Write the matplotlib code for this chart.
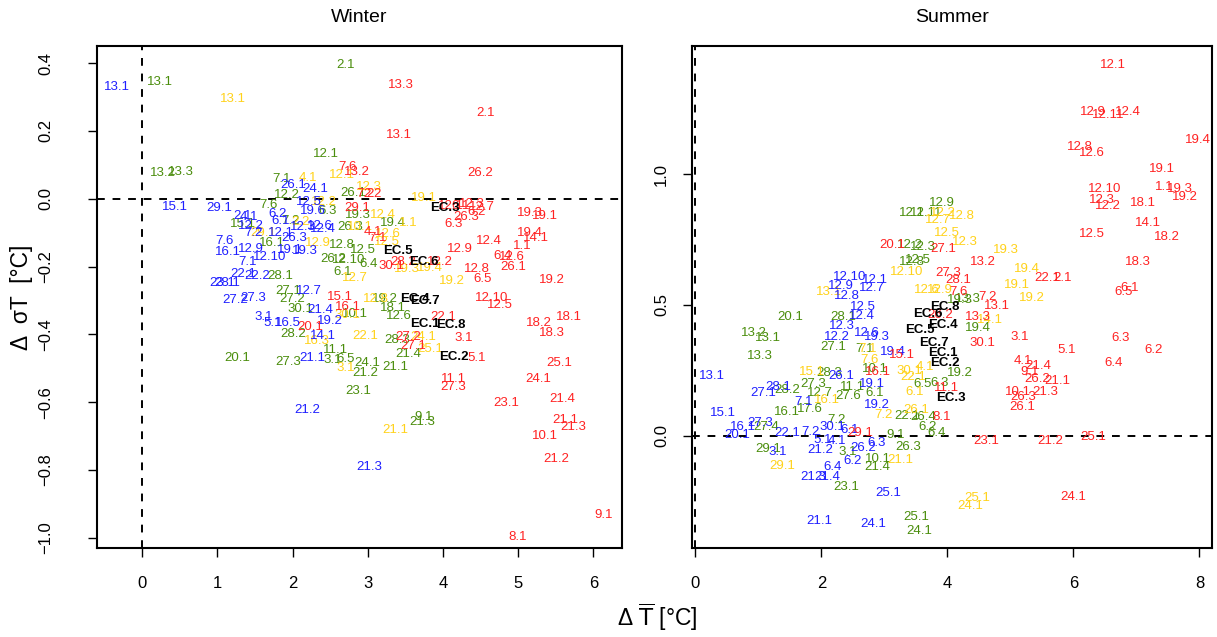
import matplotlib
matplotlib.use("Agg")
import matplotlib.pyplot as plt

plt.rcParams['font.family'] = ['Liberation Sans', 'DejaVu Sans']

# (label, dT mean, d sigma T) per model group and season
winter_blue = [
    ("13.1", -0.33, 0.330), ("15.1", 0.43, -0.024), ("29.1", 1.02, -0.027),
    ("26.1", 2.01, 0.041), ("24.1", 2.30, 0.029), ("12.5", 2.22, -0.009),
    ("19.6", 2.27, -0.035), ("2.1", 1.34, -0.050), ("4.1", 1.42, -0.053),
    ("12.2", 1.44, -0.080), ("6.2", 1.80, -0.044), ("6.1", 1.84, -0.065),
    ("7.2", 1.48, -0.100), ("12.3", 2.14, -0.083), ("12.6", 2.37, -0.080),
    ("12.4", 2.40, -0.088), ("12.1", 1.84, -0.100), ("26.3", 2.02, -0.115),
    ("7.6", 1.10, -0.124), ("16.1", 1.14, -0.156), ("12.9", 1.44, -0.147),
    ("12.10", 1.70, -0.171), ("7.1", 1.40, -0.186), ("19.1", 1.97, -0.150),
    ("19.3", 2.17, -0.153), ("22.1", 1.34, -0.221), ("22.2", 1.53, -0.227),
    ("28.1", 1.13, -0.248), ("23.1", 1.06, -0.248), ("27.2", 1.24, -0.298),
    ("27.3", 1.48, -0.292), ("12.7", 2.22, -0.271), ("21.4", 2.37, -0.327),
    ("3.1", 1.61, -0.348), ("5.1", 1.73, -0.366), ("16.5", 1.94, -0.366),
    ("19.2", 2.49, -0.360), ("14.1", 2.41, -0.404), ("21.1", 2.26, -0.469),
    ("21.2", 2.19, -0.622), ("21.3", 3.02, -0.791),
]
winter_green = [
    ("13.1", 0.24, 0.345), ("2.1", 2.71, 0.395), ("12.1", 2.45, 0.133),
    ("13.2", 0.27, 0.077), ("13.3", 0.51, 0.080), ("7.1", 1.86, 0.059),
    ("12.2", 1.93, 0.012), ("26.1", 2.81, 0.018), ("7.6", 1.68, -0.018),
    ("6.3", 2.46, -0.035), ("19.3", 2.87, -0.047), ("19.4", 3.34, -0.071),
    ("15.1", 1.34, -0.074), ("7.2", 1.97, -0.065), ("16.1", 1.73, -0.130),
    ("26.3", 2.77, -0.083), ("12.8", 2.66, -0.136), ("12.5", 2.93, -0.150),
    ("12.10", 2.74, -0.180), ("6.4", 3.01, -0.192), ("26.2", 2.54, -0.177),
    ("6.1", 2.67, -0.215), ("28.1", 1.84, -0.227), ("27.1", 1.94, -0.271),
    ("27.2", 1.99, -0.295), ("19.2", 3.23, -0.295), ("18.1", 3.34, -0.322),
    ("12.6", 3.41, -0.345), ("10.1", 2.83, -0.339), ("30.1", 2.10, -0.324),
    ("28.2", 2.01, -0.398), ("28.3", 3.39, -0.416), ("21.4", 3.54, -0.457),
    ("20.1", 1.26, -0.469), ("27.3", 1.94, -0.481), ("3.1", 2.54, -0.475),
    ("11.1", 2.57, -0.445), ("6.5", 2.71, -0.472), ("24.1", 2.99, -0.484),
    ("21.1", 3.36, -0.496), ("21.2", 2.97, -0.513), ("23.1", 2.87, -0.566),
    ("9.1", 3.74, -0.643), ("21.3", 3.72, -0.658),
]
winter_gold = [
    ("13.1", 1.21, 0.295), ("4.1", 2.21, 0.062), ("12.1", 2.66, 0.071),
    ("12.3", 3.02, 0.035), ("19.1", 3.75, 0.003), ("12.2", 2.41, -0.009),
    ("12.4", 3.20, -0.047), ("1.1", 3.54, -0.071), ("10.1", 2.90, -0.083),
    ("29.1", 1.61, -0.100), ("2.2", 2.10, -0.068), ("12.9", 2.34, -0.130),
    ("12.6", 3.27, -0.103), ("12.5", 3.26, -0.127), ("12.7", 2.83, -0.233),
    ("19.3", 3.52, -0.206), ("19.4", 3.83, -0.204), ("19.2", 4.12, -0.242),
    ("12.8", 3.11, -0.295), ("30.1", 2.73, -0.342), ("22.1", 2.97, -0.404),
    ("24.1", 3.74, -0.407), ("25.1", 3.83, -0.442), ("16.3", 2.33, -0.419),
    ("3.1", 2.70, -0.499), ("21.1", 3.36, -0.681),
]
winter_red = [
    ("13.3", 3.44, 0.336), ("2.1", 4.56, 0.254), ("13.1", 3.42, 0.189),
    ("26.2", 4.49, 0.077), ("7.6", 2.73, 0.094), ("13.2", 2.86, 0.080),
    ("7.2", 2.97, 0.015), ("2.2", 3.06, 0.015), ("29.1", 2.86, -0.027),
    ("12.1", 4.10, -0.021), ("6.1", 4.23, -0.021), ("12.3", 4.39, -0.015),
    ("12.7", 4.52, -0.024), ("6.2", 4.45, -0.038), ("26.3", 4.31, -0.053),
    ("6.3", 4.14, -0.074), ("19.3", 5.16, -0.041), ("19.1", 5.36, -0.050),
    ("19.4", 5.15, -0.100), ("14.1", 5.23, -0.115), ("12.4", 4.61, -0.124),
    ("1.1", 5.05, -0.139), ("12.9", 4.22, -0.147), ("6.4", 4.79, -0.168),
    ("12.6", 4.92, -0.171), ("26.1", 4.93, -0.201), ("12.8", 4.45, -0.206),
    ("6.5", 4.53, -0.236), ("19.2", 5.45, -0.239), ("4.1", 3.07, -0.097),
    ("7.1", 3.13, -0.115), ("28.2", 3.47, -0.186), ("30.1", 3.32, -0.198),
    ("12.2", 3.96, -0.186), ("12.10", 4.65, -0.292), ("12.5", 4.75, -0.313),
    ("18.1", 5.68, -0.348), ("18.2", 5.27, -0.366), ("18.3", 5.45, -0.395),
    ("22.1", 4.00, -0.348), ("3.1", 4.27, -0.410), ("5.1", 4.45, -0.469),
    ("25.1", 5.55, -0.484), ("24.1", 5.27, -0.531), ("11.1", 4.14, -0.531),
    ("27.3", 4.14, -0.555), ("23.1", 4.84, -0.602), ("21.4", 5.59, -0.590),
    ("21.1", 5.63, -0.652), ("21.3", 5.73, -0.673), ("10.1", 5.36, -0.699),
    ("21.2", 5.51, -0.767), ("9.1", 6.13, -0.932), ("8.1", 4.99, -0.997),
    ("15.1", 2.63, -0.289), ("16.1", 2.74, -0.319), ("20.1", 2.23, -0.378),
    ("27.2", 3.54, -0.407), ("27.1", 3.60, -0.434),
]
winter_ec = [
    ("EC.3", 4.02, -0.027), ("EC.5", 3.40, -0.153), ("EC.6", 3.75, -0.186),
    ("EC.4", 3.63, -0.295), ("EC.7", 3.76, -0.301), ("EC.1", 3.76, -0.369),
    ("EC.8", 4.10, -0.372), ("EC.2", 4.14, -0.466),
]

summer_blue = [
    ("12.10", 2.45, 0.607), ("12.1", 2.85, 0.595), ("12.9", 2.31, 0.573),
    ("12.7", 2.80, 0.565), ("12.8", 2.40, 0.534), ("12.5", 2.66, 0.492),
    ("12.4", 2.64, 0.458), ("12.3", 2.32, 0.420), ("12.6", 2.72, 0.393),
    ("19.3", 2.88, 0.378), ("12.2", 2.24, 0.378), ("19.4", 3.13, 0.321),
    ("13.1", 0.26, 0.229), ("26.1", 2.32, 0.229), ("28.1", 1.31, 0.187),
    ("19.1", 2.80, 0.198), ("27.1", 1.07, 0.164), ("7.1", 1.71, 0.130),
    ("19.2", 2.88, 0.118), ("15.1", 0.44, 0.088), ("27.3", 1.02, 0.050),
    ("16.1", 0.76, 0.031), ("20.1", 0.66, 0.004), ("22.1", 1.45, 0.011),
    ("7.2", 1.82, 0.015), ("30.1", 2.17, 0.034), ("6.1", 2.44, 0.023),
    ("5.1", 2.02, -0.015), ("4.1", 2.24, -0.019), ("26.2", 2.66, -0.046),
    ("6.3", 2.88, -0.027), ("3.1", 1.31, -0.061), ("21.2", 1.98, -0.057),
    ("6.2", 2.50, -0.099), ("6.4", 2.18, -0.122), ("21.3", 1.87, -0.160),
    ("21.4", 2.10, -0.160), ("25.1", 3.06, -0.221), ("21.1", 1.96, -0.328),
    ("24.1", 2.83, -0.340),
]
summer_green = [
    ("12.9", 3.91, 0.889), ("12.1", 3.44, 0.851), ("12.11", 3.67, 0.851),
    ("12.3", 3.61, 0.721), ("12.2", 3.40, 0.729), ("12.8", 3.44, 0.664),
    ("12.5", 3.53, 0.672), ("19.3", 4.20, 0.519), ("13.3", 4.33, 0.523),
    ("19.4", 4.48, 0.412), ("19.2", 4.20, 0.240), ("6.5", 3.61, 0.198),
    ("6.3", 3.88, 0.202), ("28.1", 2.34, 0.454), ("20.1", 1.50, 0.454),
    ("13.2", 0.92, 0.393), ("13.1", 1.15, 0.374), ("13.3", 1.02, 0.305),
    ("27.1", 2.19, 0.340), ("7.1", 2.69, 0.332), ("28.3", 2.13, 0.240),
    ("10.1", 2.85, 0.256), ("27.3", 1.87, 0.198), ("11.1", 2.50, 0.187),
    ("28.2", 1.45, 0.176), ("12.7", 1.98, 0.164), ("27.6", 2.42, 0.153),
    ("6.1", 2.85, 0.164), ("16.1", 1.45, 0.092), ("17.6", 1.82, 0.103),
    ("7.2", 2.24, 0.061), ("22.1", 3.36, 0.076), ("26.4", 3.61, 0.073),
    ("6.2", 3.69, 0.031), ("6.4", 3.83, 0.011), ("27.4", 1.13, 0.031),
    ("29.1", 1.15, -0.053), ("3.1", 2.42, -0.061), ("9.1", 3.17, 0.004),
    ("26.3", 3.37, -0.042), ("10.1", 2.90, -0.088), ("21.4", 2.88, -0.122),
    ("23.1", 2.40, -0.195), ("25.1", 3.51, -0.313), ("24.1", 3.56, -0.366),
]
summer_gold = [
    ("12.5", 3.99, 0.775), ("12.3", 4.28, 0.740), ("12.7", 3.85, 0.824),
    ("12.8", 4.23, 0.840), ("12.2", 3.93, 0.851), ("12.10", 3.36, 0.626),
    ("12.6", 3.67, 0.557), ("12.9", 3.88, 0.557), ("19.3", 4.93, 0.710),
    ("19.4", 5.26, 0.637), ("19.1", 5.10, 0.576), ("19.2", 5.34, 0.527),
    ("14.1", 4.67, 0.443), ("13.1", 2.12, 0.550), ("7.1", 2.74, 0.332),
    ("7.6", 2.77, 0.290), ("30.1", 3.40, 0.248), ("4.1", 3.64, 0.263),
    ("22.1", 3.45, 0.225), ("6.1", 3.48, 0.168), ("15.1", 1.85, 0.244),
    ("16.1", 2.09, 0.137), ("7.2", 2.98, 0.080), ("26.1", 3.51, 0.099),
    ("21.1", 3.25, -0.095), ("29.1", 1.37, -0.118), ("25.1", 4.47, -0.237),
    ("24.1", 4.37, -0.271),
]
summer_red = [
    ("12.1", 6.63, 1.416), ("12.9", 6.31, 1.237), ("12.11", 6.55, 1.225),
    ("12.4", 6.87, 1.237), ("19.4", 7.98, 1.130), ("12.8", 6.10, 1.103),
    ("12.6", 6.29, 1.080), ("19.1", 7.40, 1.019), ("12.10", 6.50, 0.943),
    ("1.1", 7.45, 0.950), ("19.3", 7.69, 0.943), ("19.2", 7.77, 0.912),
    ("12.3", 6.45, 0.901), ("12.2", 6.55, 0.878), ("18.1", 7.10, 0.889),
    ("14.1", 7.18, 0.813), ("12.5", 6.29, 0.771), ("18.2", 7.48, 0.760),
    ("18.3", 7.02, 0.664), ("22.1", 5.58, 0.603), ("2.1", 5.82, 0.603),
    ("6.1", 6.90, 0.565), ("6.5", 6.79, 0.550), ("3.1", 5.15, 0.378),
    ("6.3", 6.75, 0.374), ("5.1", 5.90, 0.328), ("6.2", 7.28, 0.328),
    ("6.4", 6.63, 0.279), ("4.1", 5.20, 0.286), ("21.4", 5.44, 0.267),
    ("9.1", 5.31, 0.244), ("26.2", 5.42, 0.218), ("21.1", 5.75, 0.210),
    ("10.1", 5.12, 0.168), ("21.3", 5.55, 0.168), ("26.3", 5.20, 0.149),
    ("26.1", 5.18, 0.111), ("23.1", 4.61, -0.019), ("21.2", 5.64, -0.019),
    ("25.1", 6.31, -0.004), ("24.1", 5.99, -0.233), ("20.1", 3.12, 0.729),
    ("27.1", 3.93, 0.714), ("13.2", 4.56, 0.664), ("27.3", 4.01, 0.622),
    ("28.1", 4.17, 0.595), ("7.6", 4.17, 0.550), ("7.2", 4.63, 0.531),
    ("13.1", 4.79, 0.496), ("26.2", 3.88, 0.462), ("13.3", 4.48, 0.454),
    ("30.1", 4.55, 0.355), ("15.1", 3.28, 0.309), ("16.1", 2.90, 0.244),
    ("11.1", 3.99, 0.183), ("8.1", 3.91, 0.073), ("29.1", 2.61, 0.011),
]
summer_ec = [
    ("EC.8", 3.96, 0.492), ("EC.6", 3.69, 0.466), ("EC.4", 3.93, 0.424),
    ("EC.5", 3.56, 0.405), ("EC.7", 3.79, 0.355), ("EC.1", 3.93, 0.317),
    ("EC.2", 3.96, 0.279), ("EC.3", 4.06, 0.145),
]

group_colors = {"blue": "#1f1fff", "green": "#4a8d0c", "gold": "#ffd21a", "red": "#ff2222"}

winter_groups = [("green", winter_green), ("gold", winter_gold),
                 ("blue", winter_blue), ("red", winter_red)]
summer_groups = [("green", summer_green), ("gold", summer_gold),
                 ("blue", summer_blue), ("red", summer_red)]


def draw_panel(ax, groups, ec, title, xlim, ylim, xticks, yticks, ypad):
    ax.set_xlim(*xlim)
    ax.set_ylim(*ylim)
    ax.axhline(0, color="black", lw=1.4, ls=(0, (4, 4)), zorder=1)
    ax.axvline(0, color="black", lw=1.4, ls=(0, (4, 4)), zorder=1)
    for name, pts in groups:
        for lab, x, y in pts:
            ax.text(x, y, lab, color=group_colors[name], fontsize=9.5,
                    ha="center", va="center", zorder=2)
    for lab, x, y in ec:
        ax.text(x, y, lab, color="black", fontsize=9.5, fontweight="bold",
                ha="center", va="center", zorder=3)
    ax.set_title(title, fontsize=14, pad=17)
    ax.set_xticks(xticks)
    ax.set_xticklabels([str(t) for t in xticks])
    ax.set_yticks(yticks)
    ax.set_yticklabels(["{:.1f}".format(t).replace("-", "\u2212") for t in yticks],
                       rotation=90, va="center")
    ax.tick_params(direction="out", length=6.5, width=1.0, labelsize=12)
    ax.tick_params(axis="x", pad=14)
    ax.tick_params(axis="y", pad=ypad)
    for s in ax.spines.values():
        s.set_linewidth(1.5)


fig = plt.figure(figsize=(12.17, 6.37), dpi=100)
ax1 = fig.add_axes([0.0797, 0.1397, 0.4314, 0.788])
ax2 = fig.add_axes([0.5686, 0.1397, 0.4273, 0.788])

draw_panel(ax1, winter_groups, winter_ec, "Winter", (-0.6, 6.38), (-1.03, 0.45),
           [0, 1, 2, 3, 4, 5, 6], [-1.0, -0.8, -0.6, -0.4, -0.2, 0.0, 0.2, 0.4], 25)
draw_panel(ax2, summer_groups, summer_ec, "Summer", (-0.055, 8.2), (-0.43, 1.49),
           [0, 2, 4, 6, 8], [0.0, 0.5, 1.0], 10)

fig.text(0.54, 0.006, "\u0394 $\\overline{\\mathrm{T}}$ [\u00b0C]", fontsize=16.5,
         ha="center", va="bottom")
fig.text(0.018, 0.533, "\u0394  \u03c3T  [\u00b0C]", fontsize=16.5, rotation=90,
         ha="center", va="center")

fig.savefig("out.png", dpi=100)
